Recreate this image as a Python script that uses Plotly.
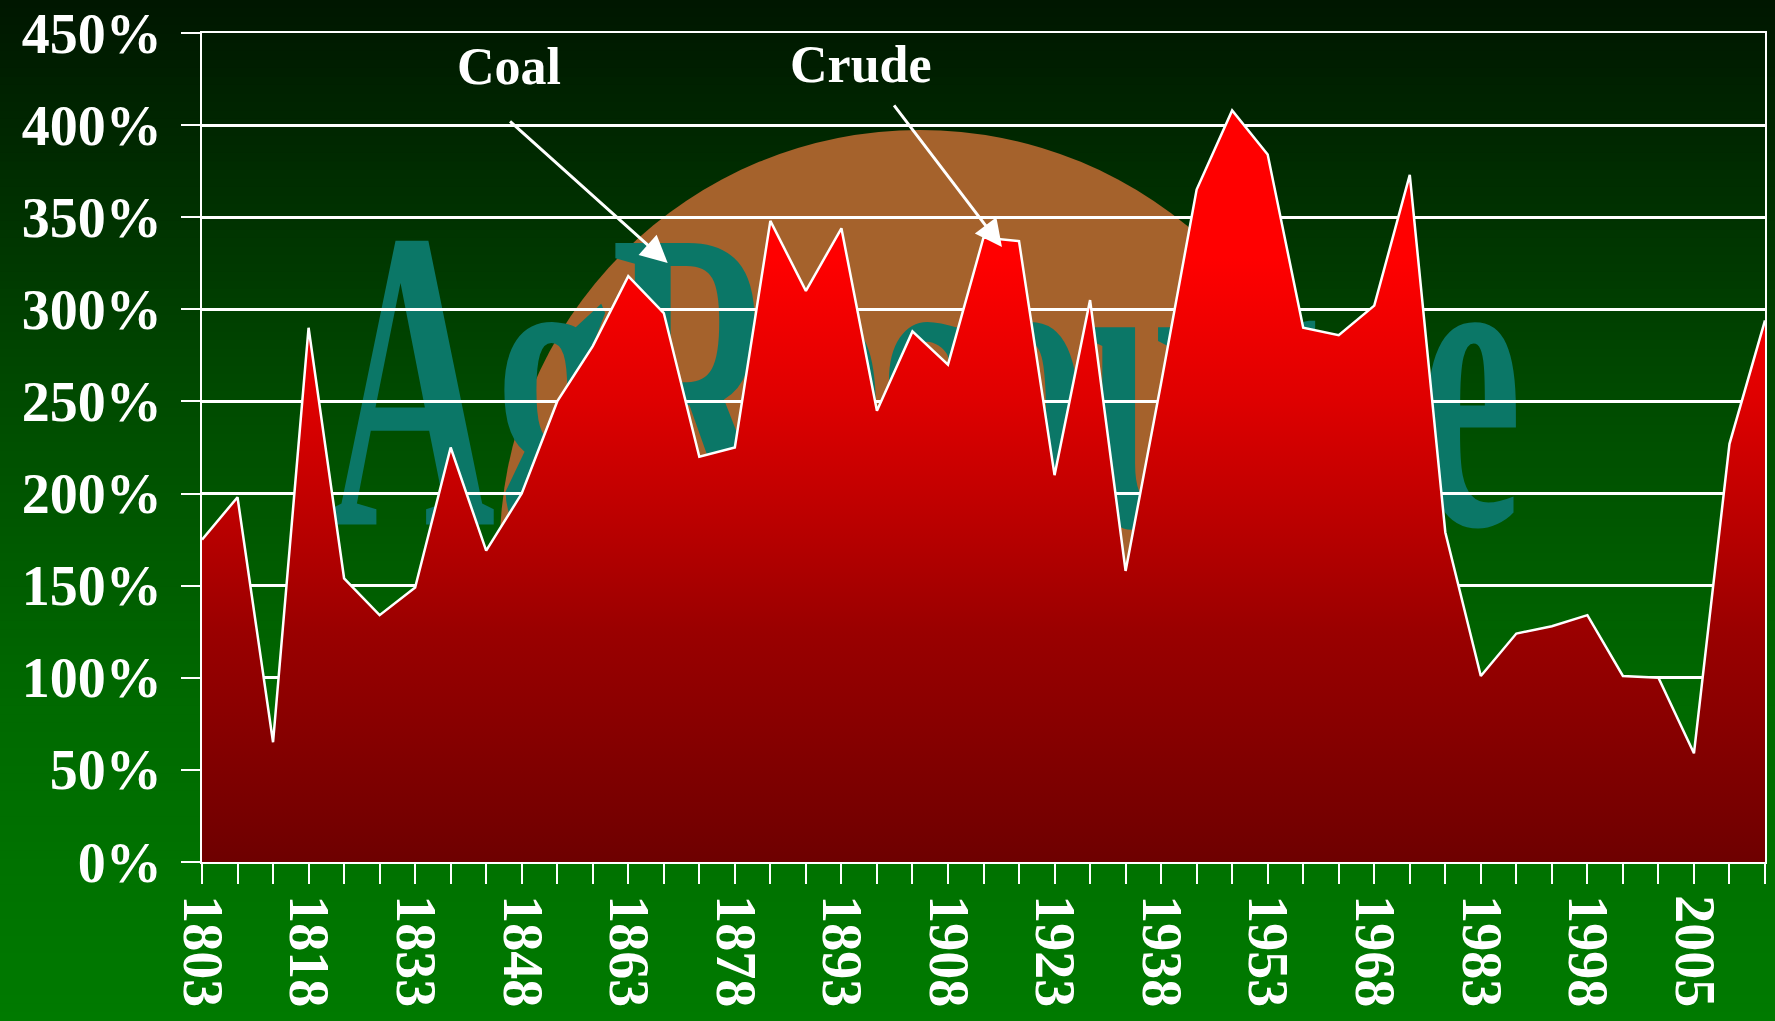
import plotly.graph_objects as go
import numpy as np

# ---------------- data ----------------
years = ["1803", "1808", "1813", "1818", "1823", "1828", "1833", "1838", "1843", "1848",
         "1853", "1858", "1863", "1868", "1873", "1878", "1883", "1888", "1893", "1898",
         "1903", "1908", "1913", "1918", "1923", "1928", "1933", "1938", "1943", "1948",
         "1953", "1958", "1963", "1968", "1973", "1978", "1983", "1988", "1993", "1998",
         "2000", "2003", "2005", "2008", "2010"]

pct = [175, 198, 65, 290, 154, 134, 149, 225, 169, 200,
       250, 280, 318, 298, 220, 225, 348, 310, 344, 245,
       288, 270, 339, 337, 210, 305, 158, 260, 365, 408,
       384, 290, 286, 302, 373, 179, 101, 124, 128, 134,
       101, 100, 59, 227, 294]

shown_labels = ["1803", "1818", "1833", "1848", "1863", "1878", "1893", "1908",
                "1923", "1938", "1953", "1968", "1983", "1998", "2005"]

y_ticks = [0, 50, 100, 150, 200, 250, 300, 350, 400, 450]
y_tick_text = [f"{v}%" for v in y_ticks]

x_tick_text = [y if y in shown_labels else "" for y in years]

# ---------------- style ----------------
W, H = 1775, 1021
ML, MR, MT, MB = 202, 10, 33, 159
PH = H - MT - MB
FONT = "Liberation Serif"
TEAL = "#0b7767"
SUN = "#a5622c"

fig = go.Figure()

fig.add_trace(go.Scatter(
    x=years, y=pct, mode="lines",
    line=dict(color="white", width=2.5),
    fill="tozeroy",
    fillgradient=dict(
        type="vertical",
        colorscale=[[0, "#6e0000"], [0.305, "#9a0000"], [0.61, "#de0000"],
                    [0.8, "#ff0000"], [1, "#ff0000"]],
        start=0, stop=410),
    hoverinfo="skip", showlegend=False))

shapes = []
# background vertical gradient (dark green top -> bright green bottom)
stops_px = [0, 200, 400, 700, 1021]
stops_g = [22, 48, 75, 105, 122]
N = 120
edges = np.linspace(0, H, N + 1)
for k in range(N):
    ymid = 0.5 * (edges[k] + edges[k + 1])
    g = int(round(np.interp(ymid, stops_px, stops_g)))
    y_top = (H - MB - edges[k]) / PH + 0.0005
    y_bot = (H - MB - edges[k + 1]) / PH - 0.0005
    shapes.append(dict(type="rect", xref="paper", yref="paper",
                       x0=-0.2, x1=1.1, y0=y_bot, y1=y_top,
                       fillcolor=f"rgb(0,{g},0)", line=dict(width=0), layer="below"))

# orange sun of the watermark
shapes.append(dict(type="circle", xref="x", yref="y",
                   x0=8.38, x1=32.04, y0=-58.6, y1=397.4,
                   fillcolor=SUN, line=dict(width=0), layer="below"))
# watermark text
shapes.append(dict(type="rect", xref="x", yref="y",
                   x0=3.5, x1=37.2, y0=154, y1=400,
                   fillcolor="rgba(0,0,0,0)", line=dict(width=0), layer="below",
                   label=dict(text="AgResource", textposition="bottom center", padding=0,
                              font=dict(family=FONT, size=430, color=TEAL, weight="bold"))))

annotations = [
    dict(x=8.63, y=432, xref="x", yref="y", text="Coal", showarrow=False,
         font=dict(family=FONT, size=52, color="white", weight="bold")),
    dict(x=18.55, y=432.7, xref="x", yref="y", text="Crude", showarrow=False,
         font=dict(family=FONT, size=52, color="white", weight="bold")),
    dict(x=13.11, y=325.2, ax=8.63, ay=402.8, xref="x", yref="y", axref="x", ayref="y",
         text="", showarrow=True, arrowhead=2, arrowsize=1.8, arrowwidth=3,
         arrowcolor="white"),
    dict(x=22.52, y=333.9, ax=19.45, ay=411.5, xref="x", yref="y", axref="x", ayref="y",
         text="", showarrow=True, arrowhead=2, arrowsize=1.8, arrowwidth=3,
         arrowcolor="white"),
]

fig.update_layout(
    width=W, height=H,
    margin=dict(l=ML, r=MR, t=MT, b=MB, autoexpand=False),
    paper_bgcolor="#004000",
    plot_bgcolor="rgba(0,0,0,0)",
    showlegend=False,
    font=dict(family=FONT, color="white"),
    shapes=shapes,
    annotations=annotations,
    xaxis=dict(type="category", categoryorder="array", categoryarray=years,
               range=[0, len(years) - 1], tickmode="array", tickvals=years,
               ticktext=x_tick_text, tickangle=90, automargin=False,
               ticks="outside", ticklen=20, tickwidth=2, tickcolor="white",
               showline=True, linecolor="white", linewidth=2, mirror=True,
               showgrid=False, zeroline=False,
               tickfont=dict(family=FONT, size=56, color="white", weight="bold")),
    yaxis=dict(range=[0, 450], tickmode="array", tickvals=y_ticks, ticktext=y_tick_text,
               ticks="outside", ticklen=19, tickwidth=2, tickcolor="white",
               ticklabelstandoff=8, automargin=False,
               showline=True, linecolor="white", linewidth=2, mirror=True,
               showgrid=True, gridcolor="white", gridwidth=3, zeroline=False,
               tickfont=dict(family=FONT, size=56, color="white", weight="bold")),
)

# remove default page margin; squeeze the watermark word horizontally (condensed logo look)
post_js = """
document.body.style.margin = '0';
document.body.style.overflow = 'hidden';
var gd = document.getElementById('{plot_id}');
gd.querySelectorAll('text').forEach(function(t) {
  if (t.textContent === 'AgResource') {
    var w = t.getComputedTextLength();
    if (w > 0) {
      var s = 1194 / w;
      var cx = parseFloat(t.getAttribute('x')) || 0;
      var tr = t.getAttribute('transform') || '';
      t.setAttribute('transform', tr + ' translate(' + cx + ',0) scale(' + s + ',1) translate(' + (-cx) + ',0)');
    }
  }
});
"""

fig.write_html("out.html", post_script=post_js, config={"displayModeBar": False})
